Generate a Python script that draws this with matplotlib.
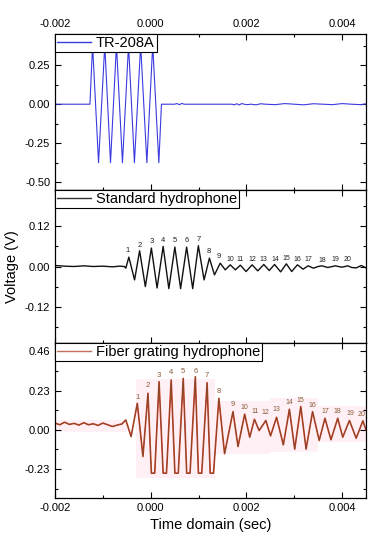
import numpy as np
import matplotlib
matplotlib.use('Agg')
import matplotlib.pyplot as plt
from matplotlib.ticker import MultipleLocator, FormatStrFormatter

plt.rcParams['font.family'] = ['Liberation Sans', 'DejaVu Sans']
plt.rcParams['axes.unicode_minus'] = False

# ---- TR-208A (source drive signal) ----
t1 = [-0.002, -0.00127, -0.001215, -0.00109, -0.00096, -0.00084, -0.000716, -0.00059,
      -0.000463, -0.00034, -0.00021, -0.00008, 0.000042, 0.00017, 0.000225,
      0.0005, 0.00055, 0.0006, 0.00065, 0.0007, 0.0017, 0.00175, 0.0018, 0.00185,
      0.0019, 0.002, 0.0021, 0.0022, 0.0023, 0.0024, 0.0026, 0.0028, 0.003, 0.0032,
      0.0034, 0.0036, 0.0038, 0.004, 0.0042, 0.0044, 0.0045]
v1 = [0.0, 0.0, 0.38, -0.375, 0.38, -0.375, 0.38, -0.375,
      0.38, -0.375, 0.38, -0.375, 0.38, -0.375, 0.0,
      0.0, 0.004, -0.003, 0.005, 0.0, 0.0, -0.004, 0.003, -0.005,
      0.004, -0.003, 0.0, -0.004, 0.003, 0.0, -0.003, 0.004, 0.0, -0.004,
      0.003, 0.0, -0.003, 0.004, 0.0, -0.003, 0.003]

# ---- Standard hydrophone ----
t2 = [-0.002, -0.0018, -0.0016, -0.0014, -0.0012, -0.001, -0.0008, -0.00065, -0.00055,
      -0.00052, -0.000457, -0.000337, -0.000232, -0.000112, 0.000014, 0.000133,
      0.00026, 0.000379, 0.000505, 0.000625, 0.000751, 0.000878, 0.000996, 0.001116,
      0.001227, 0.001333, 0.001453, 0.001558, 0.001663, 0.00177, 0.001874, 0.001993,
      0.00212, 0.002238, 0.002364, 0.002477, 0.002589, 0.002716, 0.002835, 0.002947,
      0.003067, 0.003185, 0.00329, 0.0034, 0.0035, 0.00358, 0.0037, 0.0038, 0.00385,
      0.004, 0.00412, 0.0042, 0.0043, 0.0044, 0.0045]
v2 = [0.003, 0.001, 0.0, 0.002, 0.0, 0.001, -0.001, 0.001, 0.0,
      -0.005, 0.028, -0.040, 0.047, -0.060, 0.055, -0.064,
      0.060, -0.066, 0.058, -0.066, 0.058, -0.066, 0.062, -0.040,
      0.025, -0.025, 0.010, -0.010, 0.005, -0.010, 0.004, -0.015,
      0.005, -0.013, 0.006, -0.012, 0.006, -0.016, 0.008, -0.015,
      0.005, -0.008, 0.002, -0.005, 0.0, 0.002, -0.003, 0.0, 0.002,
      -0.002, 0.002, -0.003, -0.004, 0.003, -0.004]
lab2_t = [-0.000478, -0.000232, 0.000014, 0.000253, 0.000505, 0.000751, 0.000996,
          0.001214, 0.001425, 0.001663, 0.001859, 0.00212, 0.002351, 0.002596,
          0.002842, 0.003067, 0.00329, 0.003579, 0.003853, 0.00412]
lab2_v = [0.047, 0.063, 0.075, 0.077, 0.077, 0.077, 0.080, 0.045, 0.030, 0.022,
          0.022, 0.020, 0.020, 0.020, 0.024, 0.022, 0.020, 0.017, 0.020, 0.020]

# ---- Fiber grating hydrophone ----
t3 = [-0.002, -0.0019, -0.0018, -0.0017, -0.0016, -0.0015, -0.0014, -0.0013, -0.0012,
      -0.0011, -0.001, -0.0009, -0.0008, -0.0007, -0.0006, -0.00052, -0.00041,
      -0.00028, -0.000162, -0.000057, 0.000014, 0.000084, 0.000175, 0.00026, 0.00033,
      0.000428, 0.000506, 0.000576, 0.00068, 0.000752, 0.000822, 0.000933, 0.000997,
      0.001067, 0.001179, 0.001243, 0.001313, 0.001425, 0.001544, 0.00172, 0.001825,
      0.001964, 0.00207, 0.002168, 0.002267, 0.002406, 0.002505, 0.002631, 0.002772,
      0.002899, 0.00301, 0.003137, 0.003248, 0.003383, 0.003522, 0.003642, 0.003768,
      0.003909, 0.004014, 0.004154, 0.004295, 0.004435, 0.0045]
v3 = [0.040, 0.030, 0.045, 0.032, 0.038, 0.028, 0.042, 0.030, 0.036,
      0.026, 0.040, 0.030, 0.020, 0.028, 0.035, 0.058, -0.039,
      0.156, -0.156, 0.215, -0.254, -0.254, 0.283, -0.254, -0.254,
      0.293, -0.254, -0.254, 0.302, -0.254, -0.254, 0.312, -0.254,
      -0.254, 0.277, -0.254, -0.254, 0.185, -0.140, 0.107, -0.098,
      0.092, -0.043, 0.062, -0.004, 0.055, -0.035, 0.074, -0.088,
      0.121, -0.113, 0.137, -0.113, 0.107, -0.062, 0.068, -0.058,
      0.068, -0.043, 0.055, -0.049, 0.053, 0.0]
lab3_t = [-0.00028, -0.000057, 0.000175, 0.000428, 0.00068, 0.000933, 0.001179,
          0.001425, 0.001711, 0.001958, 0.002175, 0.002406, 0.002631, 0.002899,
          0.003131, 0.003383, 0.003649, 0.003909, 0.004168, 0.004415]
lab3_v = [0.191, 0.263, 0.322, 0.338, 0.345, 0.345, 0.322, 0.224, 0.146, 0.131,
          0.107, 0.101, 0.117, 0.160, 0.172, 0.142, 0.107, 0.107, 0.094, 0.088]
# light pink highlight blocks behind the fiber signal
shade_t0 = [-0.00202, -0.00030, 0.00135, 0.0025, 0.0035]
shade_t1 = [-0.00050, 0.00135, 0.0025, 0.0035, 0.0045]
shade_lo = [-0.010, -0.283, -0.140, -0.130, -0.070]
shade_hi = [0.058, 0.300, 0.170, 0.190, 0.140]

fig = plt.figure(figsize=(3.76, 5.5), dpi=100)
L, W = 0.1463, 0.8271
ax1 = fig.add_axes([L, 0.6545, W, 0.2837])
ax2 = fig.add_axes([L, 0.3764, W, 0.2781])
ax3 = fig.add_axes([L, 0.0945, W, 0.2819])

ax1.plot(t1, v1, color='#3a3ae0', lw=0.8, label='TR-208A')
ax2.plot(t2, v2, color='#111111', lw=1.0, label='Standard hydrophone')
for a, b, lo, hi in zip(shade_t0, shade_t1, shade_lo, shade_hi):
    ax3.fill_between([a, b], lo, hi, color='#fff0f5', lw=0, zorder=0)
ax3.plot(t3, v3, color='#d0402a', lw=1.2, label='Fiber grating hydrophone')
ax3.plot(t3, v3, color='#6b4a28', lw=0.45)

for i, (x, y) in enumerate(zip(lab2_t, lab2_v)):
    ax2.text(x, y, str(i + 1), fontsize=5.5 if i < 9 else 5, color='#222222',
             ha='center', va='center')
for i, (x, y) in enumerate(zip(lab3_t, lab3_v)):
    ax3.text(x, y, str(i + 1), fontsize=5.5 if i < 9 else 5, color='#8a5a3a',
             ha='center', va='center')

ax1.set_ylim(-0.55, 0.45)
ax1.set_yticks([-0.5, -0.25, 0, 0.25])
ax1.yaxis.set_minor_locator(MultipleLocator(0.125))
ax2.set_ylim(-0.228, 0.228)
ax2.set_yticks([-0.12, 0, 0.12])
ax2.yaxis.set_minor_locator(MultipleLocator(0.06))
ax3.set_ylim(-0.40, 0.51)
ax3.set_yticks([-0.23, 0, 0.23, 0.46])
ax3.yaxis.set_minor_locator(MultipleLocator(0.115))

legend_colors = ['#3a3ae0', '#333333', '#c0705a']
for ax, lc in zip([ax1, ax2, ax3], legend_colors):
    ax.set_xlim(-0.002, 0.0045)
    ax.set_xticks([-0.002, 0, 0.002, 0.004])
    ax.xaxis.set_minor_locator(MultipleLocator(0.001))
    ax.xaxis.set_major_formatter(FormatStrFormatter('%.3f'))
    ax.yaxis.set_major_formatter(FormatStrFormatter('%.2f'))
    ax.tick_params(which='both', direction='in', top=True, right=True,
                   labelsize=8, width=0.8)
    ax.tick_params(which='major', length=4)
    ax.tick_params(which='minor', length=2.5)
    for s in ax.spines.values():
        s.set_linewidth(0.9)
    leg = ax.legend(loc='upper left', bbox_to_anchor=(0, 1), borderaxespad=0,
                    fancybox=False, edgecolor='black', framealpha=1,
                    fontsize=10.5, borderpad=0.15, handlelength=2.3,
                    handletextpad=0.35)
    leg.get_frame().set_linewidth(0.8)
    leg.get_lines()[0].set_color(lc)
    leg.get_lines()[0].set_linewidth(1.0)
    leg.set_zorder(5)

ax1.tick_params(labeltop=True, labelbottom=False)
ax2.tick_params(labelbottom=False)
ax2.set_ylabel('Voltage (V)', fontsize=10.5, labelpad=4)
ax3.set_xlabel('Time domain (sec)', fontsize=10.5, labelpad=4)

fig.savefig('out.png', dpi=100)
